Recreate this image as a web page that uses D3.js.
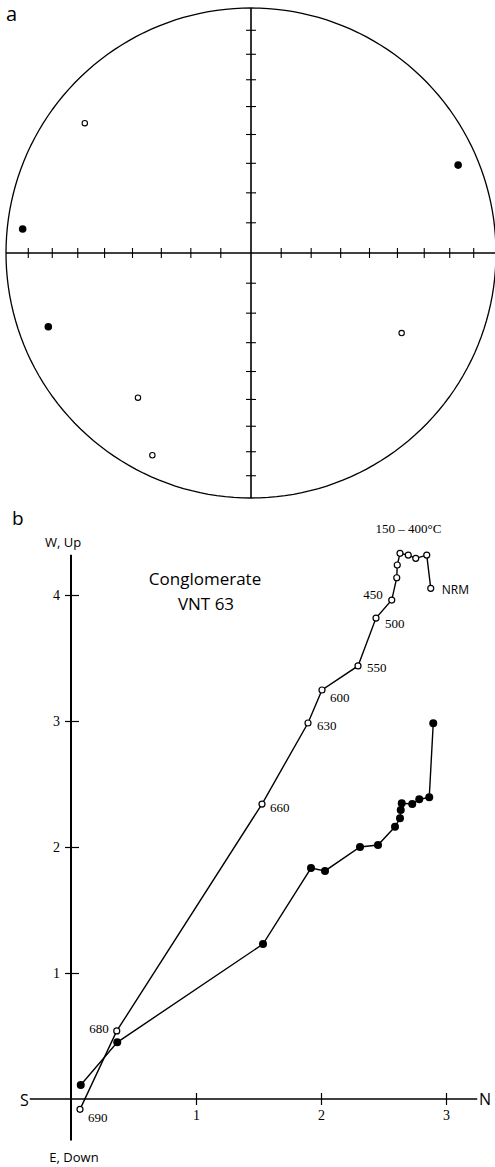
<!DOCTYPE html>
<html>
<head>
<meta charset="utf-8">
<script src="https://d3js.org/d3.v7.min.js"></script>
<style>
  body { margin: 0; background: #fff; }
  svg { display: block; }
</style>
</head>
<body>
<script>

// ---- panel a: equal-area stereonet (declination / inclination, deg) ----
var downDec = [67, 276, 250];          // filled = lower hemisphere
var downInc = [9, 7, 13];
var upDec = [308, 118, 218, 206];      // open = upper hemisphere
var upInc = [-15, -31, -26, -9];
var netTicks = [10, 20, 30, 40, 50, 60, 70, 80];

// ---- panel b: orthogonal plot (N component vs W / Up) ----
var vertN  = [2.878, 2.846, 2.758, 2.698, 2.632, 2.610, 2.606, 2.566, 2.440, 2.296, 2.008, 1.896, 1.528, 0.366, 0.072];
var vertUp = [4.053, 4.317, 4.291, 4.317, 4.331, 4.238, 4.137, 3.960, 3.817, 3.437, 3.246, 2.984, 2.341, 0.540, -0.082];
var stepLabels = ["NRM", "", "", "", "", "", "", "450", "500", "550", "600", "630", "660", "680", "690"];
var horN = [2.898, 2.866, 2.786, 2.730, 2.646, 2.638, 2.632, 2.592, 2.456, 2.312, 2.032, 1.920, 1.536, 0.370, 0.078];
var horW = [2.982, 2.394, 2.379, 2.341, 2.347, 2.294, 2.228, 2.161, 2.016, 2.000, 1.810, 1.833, 1.230, 0.450, 0.111];
var xTicks = [1, 2, 3];
var yTicks = [1, 2, 3, 4];

var sans = "'Open Sans', sans-serif";
var serif = "'Liberation Serif', serif";

var svg = d3.select("body").append("svg")
    .attr("width", 495)
    .attr("height", 1167);

// ===== panel a =====
var cx = 251, cy = 253, R = 245;
var proj = d3.geoAzimuthalEqualArea()
    .rotate([0, -90])
    .scale(R / Math.SQRT2)
    .translate([cx, cy]);
var geo = d3.geoPath(proj);
// declination measured clockwise from up
function dirPt(dec, inc) { return proj([180 - dec, Math.abs(inc)]); }

var a = svg.append("g");

a.append("text")
    .attr("x", 6).attr("y", 21)
    .style("font-family", sans).style("font-size", "20px")
    .text("a");

a.append("path")
    .datum(d3.geoCircle().center([0, 90]).radius(90)())
    .attr("d", geo)
    .attr("fill", "none").attr("stroke", "#000").attr("stroke-width", 1.3);

// diameters
var east = dirPt(90, 0), west = dirPt(270, 0), north = dirPt(0, 0), south = dirPt(180, 0);
a.append("line")
    .attr("x1", west[0]).attr("y1", west[1]).attr("x2", 495).attr("y2", east[1])
    .attr("stroke", "#000").attr("stroke-width", 1.6);
a.append("line")
    .attr("x1", north[0]).attr("y1", north[1]).attr("x2", south[0]).attr("y2", south[1])
    .attr("stroke", "#000").attr("stroke-width", 1.6);

// 10 degree ticks along the diameters
[0, 90, 180, 270].forEach(function(dec) {
  netTicks.forEach(function(inc) {
    var p = dirPt(dec, inc);
    var vert = (dec === 0 || dec === 180);
    a.append("line")
        .attr("x1", vert ? p[0] - 5 : p[0]).attr("x2", vert ? p[0] + 5 : p[0])
        .attr("y1", vert ? p[1] : p[1] - 5).attr("y2", vert ? p[1] : p[1] + 5)
        .attr("stroke", "#000").attr("stroke-width", 1.1);
  });
});

a.selectAll(".down").data(d3.range(downDec.length)).enter().append("circle")
    .attr("cx", function(i) { return dirPt(downDec[i], downInc[i])[0]; })
    .attr("cy", function(i) { return dirPt(downDec[i], downInc[i])[1]; })
    .attr("r", 3.8).attr("fill", "#000");

a.selectAll(".up").data(d3.range(upDec.length)).enter().append("circle")
    .attr("cx", function(i) { return dirPt(upDec[i], upInc[i])[0]; })
    .attr("cy", function(i) { return dirPt(upDec[i], upInc[i])[1]; })
    .attr("r", 2.7).attr("fill", "#fff").attr("stroke", "#000").attr("stroke-width", 1.1);

// ===== panel b =====
var x = d3.scaleLinear().domain([0, 3]).range([71, 446]);
var y = d3.scaleLinear().domain([0, 4]).range([1099, 595]);

var b = svg.append("g");

b.append("text")
    .attr("x", 12).attr("y", 525)
    .style("font-family", sans).style("font-size", "19px")
    .text("b");

// axis lines
b.append("line")
    .attr("x1", x(-0.33)).attr("x2", x(3.25)).attr("y1", y(0)).attr("y2", y(0))
    .attr("stroke", "#000").attr("stroke-width", 1.5);
b.append("line")
    .attr("x1", x(0)).attr("x2", x(0)).attr("y1", y(4.32)).attr("y2", y(-0.33))
    .attr("stroke", "#000").attr("stroke-width", 2);

var xAxis = b.append("g")
    .attr("transform", "translate(0," + y(0) + ")")
    .call(d3.axisBottom(x).tickValues(xTicks).tickSize(6).tickPadding(5).tickFormat(d3.format("d")));
xAxis.select(".domain").remove();
xAxis.selectAll(".tick line").attr("y1", -6).attr("stroke-width", 1.2);
xAxis.selectAll("text").style("font-family", serif).style("font-size", "14px");

var yAxis = b.append("g")
    .attr("transform", "translate(" + x(0) + ",0)")
    .call(d3.axisLeft(y).tickValues(yTicks).tickSize(6).tickPadding(5).tickFormat(d3.format("d")));
yAxis.select(".domain").remove();
yAxis.selectAll(".tick line").attr("x1", 8).attr("stroke-width", 1.2);
yAxis.selectAll("text").style("font-family", serif).style("font-size", "14px");

// axis names
b.append("text").attr("x", 20).attr("y", 1100).attr("dy", "0.35em")
    .style("font-family", sans).style("font-size", "16px").text("S");
b.append("text").attr("x", 479).attr("y", 1099).attr("dy", "0.35em")
    .style("font-family", sans).style("font-size", "16px").text("N");
b.append("text").attr("x", 63).attr("y", 547).attr("text-anchor", "middle")
    .style("font-family", sans).style("font-size", "13px").text("W, Up");
b.append("text").attr("x", 74).attr("y", 1162).attr("text-anchor", "middle")
    .style("font-family", sans).style("font-size", "13px").text("E, Down");

// title
b.append("text").attr("x", 205).attr("y", 585).attr("text-anchor", "middle")
    .style("font-family", sans).style("font-size", "17px").text("Conglomerate");
b.append("text").attr("x", 206).attr("y", 610).attr("text-anchor", "middle")
    .style("font-family", sans).style("font-size", "17px").text("VNT 63");

var line = d3.line()
    .x(function(d) { return x(d[0]); })
    .y(function(d) { return y(d[1]); });

var horPts = d3.zip(horN, horW);
var vertPts = d3.zip(vertN, vertUp);

b.append("path").datum(horPts).attr("d", line)
    .attr("fill", "none").attr("stroke", "#000").attr("stroke-width", 1.4);
b.append("path").datum(vertPts).attr("d", line)
    .attr("fill", "none").attr("stroke", "#000").attr("stroke-width", 1.4);

b.selectAll(".hor").data(horPts).enter().append("circle")
    .attr("cx", function(d) { return x(d[0]); })
    .attr("cy", function(d) { return y(d[1]); })
    .attr("r", 4).attr("fill", "#000");

b.selectAll(".vert").data(vertPts).enter().append("circle")
    .attr("cx", function(d) { return x(d[0]); })
    .attr("cy", function(d) { return y(d[1]); })
    .attr("r", 3).attr("fill", "#fff").attr("stroke", "#000").attr("stroke-width", 1.2);

// step labels: offset from their point
var labelPos = {
  "NRM": [11, 6, "start"], "450": [-9, -1, "end"], "500": [9, 10, "start"],
  "550": [9, 6, "start"], "600": [8, 12, "start"], "630": [9, 7, "start"],
  "660": [8, 8, "start"], "680": [-8, 2, "end"], "690": [8, 13, "start"]
};
stepLabels.forEach(function(lab, i) {
  if (!lab) return;
  var o = labelPos[lab];
  b.append("text")
      .attr("x", x(vertN[i]) + o[0]).attr("y", y(vertUp[i]) + o[1])
      .attr("text-anchor", o[2])
      .style("font-family", lab === "NRM" ? sans : serif)
      .style("font-size", lab === "NRM" ? "12px" : "13px")
      .text(lab);
});

// label for the 150-400 cluster (points 1..6)
var clusterX = d3.mean(vertN.slice(1, 7));
b.append("text")
    .attr("x", x(clusterX) + 1).attr("y", y(d3.max(vertUp)) - 20)
    .attr("text-anchor", "middle")
    .style("font-family", serif).style("font-size", "13px")
    .text("150 \u2013 400\u00b0C");

</script>
</body>
</html>
